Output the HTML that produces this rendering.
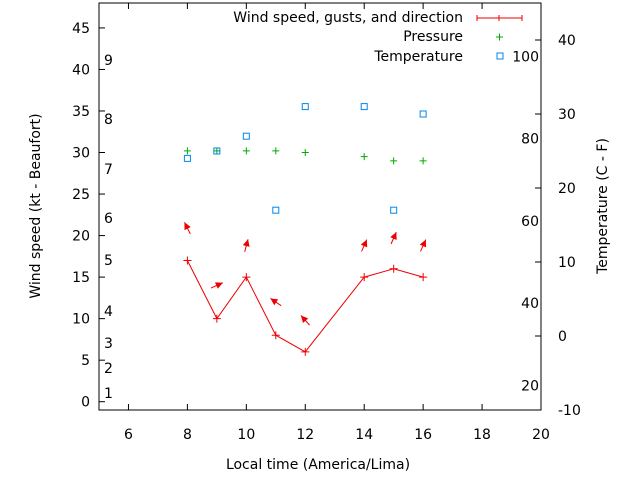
<!DOCTYPE html>
<html><head><meta charset="utf-8"><style>
body{margin:0;background:#fff;}
svg text{font-family:"DejaVu Sans","Liberation Sans",sans-serif;font-size:14px;fill:#000;}
</style></head><body>
<svg id="chart" width="640" height="480" xmlns="http://www.w3.org/2000/svg">
<rect x="0" y="0" width="640" height="480" fill="#fff"/>
<g id="axes"></g>
<g id="marks"></g>
<g>
<text x="463" y="22" text-anchor="end">Wind speed, gusts, and direction</text>
<line x1="477" y1="18" x2="522" y2="18" stroke="#e00" stroke-width="1"/>
<line x1="477" y1="15" x2="477" y2="21" stroke="#e00"/><line x1="499" y1="15" x2="499" y2="21" stroke="#e00"/><line x1="522" y1="15" x2="522" y2="21" stroke="#e00"/>
<text x="463" y="41" text-anchor="end">Pressure</text>
<path d="M496 37h7M499.5 33.5v7" stroke="#0a0"/>
<text x="463" y="61" text-anchor="end">Temperature</text>
<rect x="497" y="53" width="6" height="6" fill="none" stroke="#08e"/>
</g>
<text x="318" y="469" text-anchor="middle">Local time (America/Lima)</text>
<text transform="translate(40,206) rotate(-90)" text-anchor="middle">Wind speed (kt - Beaufort)</text>
<text transform="translate(607,206) rotate(-90)" text-anchor="middle">Temperature (C - F)</text>
</svg>
<script>
const hours=[8,9,10,11,12,14,15,16];
const windSpeed=[17,10,15,8,6,15,16,15];
const gust=[20.9,14,18.8,12,9.8,18.8,19.7,18.8];
const windDir=[333,66,15,304,318,24,24,24];
const pressure=[30.2,30.2,30.2,30.2,30,29.5,29,29];
const tempC=[24,25,27,17,31,31,17,30];
const xTicks=[6,8,10,12,14,16,18,20];
const yTicks=[0,5,10,15,20,25,30,35,40,45];
const y2Ticks=[-10,0,10,20,30,40];
const beaufort=[[1,393],[2,368],[3,343],[4,311],[5,260],[6,218],[7,169],[8,119],[9,60]];
const fahrenheit=[20,40,60,80,100];
const L=99,R=541,T=3,B=410;
const X=v=>L+(v-5)*(R-L)/15;
const Y=v=>B-(v+1)*(B-T)/49;
const Y2=v=>B-(v+10)*(B-T)/55;
const ns="http://www.w3.org/2000/svg";
const axes=document.getElementById('axes'),marks=document.getElementById('marks');
function mk(p,tag,at,txt){const e=document.createElementNS(ns,tag);for(const k in at)e.setAttribute(k,at[k]);if(txt!==undefined)e.textContent=txt;p.appendChild(e);return e;}
const frame=mk(axes,'rect',{x:L,y:T,width:R-L,height:B-T,fill:'none',stroke:'#000'});


xTicks.forEach(v=>{mk(axes,'line',{x1:X(v),y1:B,x2:X(v),y2:B-6,stroke:'#000'});mk(axes,'line',{x1:X(v),y1:T,x2:X(v),y2:T+6,stroke:'#000'});
const t=mk(axes,'text',{x:X(v),y:B+29,'text-anchor':'middle'},v);

});
yTicks.forEach(v=>{mk(axes,'line',{x1:L,y1:Y(v),x2:L+6,y2:Y(v),stroke:'#000'});
const t=mk(axes,'text',{x:L-9,y:Y(v)+5,'text-anchor':'end'},v);

});
y2Ticks.forEach(v=>{mk(axes,'line',{x1:R,y1:Y2(v),x2:R-6,y2:Y2(v),stroke:'#000'});
const t=mk(axes,'text',{x:R+17,y:Y2(v)+5},v);

});
beaufort.forEach(b=>{const t=mk(axes,'text',{x:104,y:b[1]+5},b[0]);

});
fahrenheit.forEach(f=>{const c=(f-32)*5/9;const t=mk(axes,'text',{x:539,y:Y2(c)+5,'text-anchor':'end'},f);

});
const pl=mk(marks,'polyline',{points:hours.map((h,i)=>X(h)+','+Y(windSpeed[i])).join(' '),fill:'none',stroke:'#e00'});


hours.forEach((h,i)=>{const x=X(h),y=Y(windSpeed[i]);
const p=mk(marks,'path',{d:`M${x-4} ${y}h8M${x} ${y-4}v8`,stroke:'#e00'});


const a=windDir[i]*Math.PI/180,len=13,cx=x,cy=Y(gust[i]);
const dx=Math.sin(a)*len/2,dy=-Math.cos(a)*len/2;
const hx=cx+dx,hy=cy+dy,ux=dx/(len/2),uy=dy/(len/2);
const g=mk(marks,'g',{});


mk(g,'line',{x1:cx-dx,y1:cy-dy,x2:hx,y2:hy,stroke:'#e00'});
mk(g,'polygon',{points:`${hx},${hy} ${hx-ux*7-uy*3.5},${hy-uy*7+ux*3.5} ${hx-ux*7+uy*3.5},${hy-uy*7-ux*3.5}`,fill:'#e00'});
const py=Y(pressure[i]);
const pp=mk(marks,'path',{d:`M${x-3.5} ${py}h7M${x} ${py-3.5}v7`,stroke:'#0a0'});


const s=mk(marks,'rect',{x:x-3,y:Y2(tempC[i])-3,width:6,height:6,fill:'none',stroke:'#08e'});

});
</script>
</body></html>
